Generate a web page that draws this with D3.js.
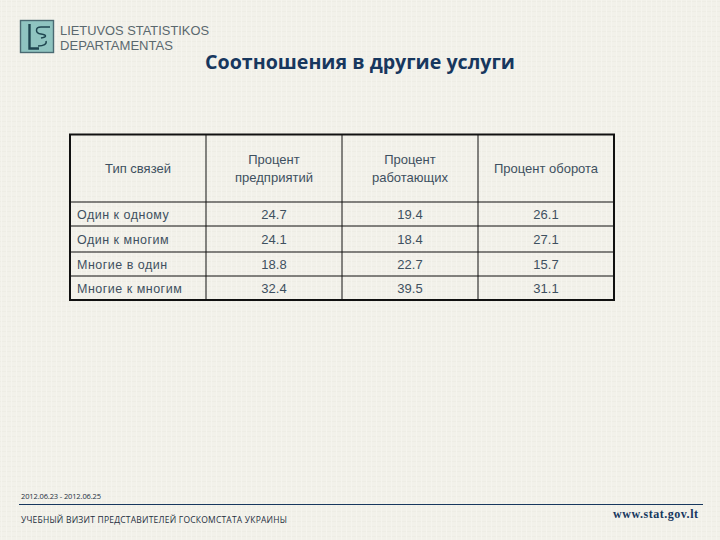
<!DOCTYPE html>
<html>
<head>
<meta charset="utf-8">
<script src="https://cdn.jsdelivr.net/npm/d3@7"></script>
<style>
html, body { margin: 0; padding: 0; background: #f1f0e9; }
svg { display: block; }
text { font-family: "Liberation Sans", sans-serif; }
</style>
</head>
<body>
<svg id="chart"></svg>
<script>
const w = 720;
const h = 540;

const title = 'Соотношения в другие услуги';
const headerCol0 = ['Тип связей'];
const headerCol1 = ['Процент', 'предприятий'];
const headerCol2 = ['Процент', 'работающих'];
const headerCol3 = ['Процент оборота'];
const rowNames = ['Один к одному', 'Один к многим', 'Многие в один', 'Многие к многим'];
const enterprises = ['24.7', '24.1', '18.8', '32.4'];
const employees = ['19.4', '18.4', '22.7', '39.5'];
const turnover = ['26.1', '27.1', '15.7', '31.1'];

const columns = ['type', 'enterprises', 'employees', 'turnover'];
const rowKeys = ['header'].concat(rowNames);

// grid edges
const colEdges = [70, 206, 342, 478, 614];
const rowEdges = [134.5, 202, 226, 252, 276, 300];

const xScale = d3.scaleOrdinal().domain(columns).range(colEdges);
const xEnd = d3.scaleOrdinal().domain(columns).range(colEdges.slice(1));
const yScale = d3.scaleOrdinal().domain(rowKeys).range(rowEdges);
const yEnd = d3.scaleOrdinal().domain(rowKeys).range(rowEdges.slice(1));
const xMid = c => (xScale(c) + xEnd(c)) / 2;
const yMid = r => (yScale(r) + yEnd(r)) / 2;

const svg = d3.select('#chart').attr('width', w).attr('height', h);

// paper texture
const defs = svg.append('defs');
const pat = defs.append('pattern')
    .attr('id', 'paper')
    .attr('width', 5)
    .attr('height', 5)
    .attr('patternUnits', 'userSpaceOnUse');
pat.append('rect').attr('width', 5).attr('height', 5).attr('fill', '#f2f1ea');
pat.append('path').attr('d', 'M0 1.5H5').attr('stroke', '#eeede5').attr('stroke-width', 1);
pat.append('path').attr('d', 'M1.5 0V5').attr('stroke', '#f5f4ee').attr('stroke-width', 1);
svg.append('rect').attr('width', w).attr('height', h).attr('fill', 'url(#paper)');

// logo
const logo = svg.append('g');
logo.append('rect')
    .attr('x', 20.5).attr('y', 20.5)
    .attr('width', 33).attr('height', 32)
    .attr('fill', '#8fc4c0')
    .attr('stroke', '#4a6a72')
    .attr('stroke-width', 1.4);
logo.append('path')
    .attr('d', 'M29.5 24V48.5H39')
    .attr('fill', 'none')
    .attr('stroke', '#1f4650')
    .attr('stroke-width', 2.4);
logo.append('path')
    .attr('d', 'M50 27H41C35 27 35 33 41 34C47 35 47 37 41 38M46 41C47 44 44 46 38 46')
    .attr('fill', 'none')
    .attr('stroke', '#1f4650')
    .attr('stroke-width', 1.5);
logo.append('text')
    .attr('x', 60).attr('y', 35)
    .attr('font-size', 12.5)
    .attr('textLength', 149)
    .attr('lengthAdjust', 'spacingAndGlyphs')
    .attr('fill', '#5a686e')
    .text('LIETUVOS STATISTIKOS');
logo.append('text')
    .attr('x', 60).attr('y', 49.5)
    .attr('font-size', 12.5)
    .attr('textLength', 113)
    .attr('lengthAdjust', 'spacingAndGlyphs')
    .attr('fill', '#5a686e')
    .text('DEPARTAMENTAS');

// title
svg.append('text')
    .attr('x', 360).attr('y', 69)
    .attr('text-anchor', 'middle')
    .attr('font-size', 19.5)
    .attr('font-weight', 'bold')
    .style('font-family', '"Open Sans", sans-serif')
    .attr('textLength', 310)
    .attr('lengthAdjust', 'spacingAndGlyphs')
    .attr('fill', '#17375e')
    .text(title);

// grid lines
const grid = svg.append('g').attr('stroke', '#111');
grid.selectAll('line.row')
    .data(rowKeys.slice(1))
    .enter()
    .append('line')
    .attr('class', 'row')
    .attr('x1', xScale('type'))
    .attr('x2', xEnd('turnover'))
    .attr('y1', d => yScale(d))
    .attr('y2', d => yScale(d))
    .attr('stroke-width', 1);
grid.selectAll('line.col')
    .data(columns.slice(1))
    .enter()
    .append('line')
    .attr('class', 'col')
    .attr('x1', d => xScale(d))
    .attr('x2', d => xScale(d))
    .attr('y1', yScale('header'))
    .attr('y2', yEnd(rowNames[3]))
    .attr('stroke-width', 1);
grid.append('rect')
    .attr('x', xScale('type'))
    .attr('y', yScale('header'))
    .attr('width', xEnd('turnover') - xScale('type'))
    .attr('height', yEnd(rowNames[3]) - yScale('header'))
    .attr('fill', 'none')
    .attr('stroke-width', 2);

// header cells
const headerLines = [headerCol0, headerCol1, headerCol2, headerCol3];
const ink = '#3e5060';
columns.forEach((c, i) => {
    const lines = headerLines[i];
    svg.selectAll(null)
        .data(lines)
        .enter()
        .append('text')
        .attr('x', xMid(c))
        .attr('y', (d, k) => yMid('header') + (k - (lines.length - 1) / 2) * 18 + 5)
        .attr('text-anchor', 'middle')
        .attr('font-size', 13)
        .attr('fill', ink)
        .text(d => d);
});

// body cells
svg.selectAll('text.name')
    .data(rowNames)
    .enter()
    .append('text')
    .attr('class', 'name')
    .attr('x', 77)
    .attr('y', d => yMid(d) + 4.5)
    .attr('font-size', 12.5)
    .attr('letter-spacing', 0.5)
    .attr('fill', ink)
    .text(d => d);

[enterprises, employees, turnover].forEach((vals, i) => {
    const c = columns[i + 1];
    svg.selectAll(null)
        .data(vals)
        .enter()
        .append('text')
        .attr('x', xMid(c))
        .attr('y', (d, k) => yMid(rowNames[k]) + 4.5)
        .attr('text-anchor', 'middle')
        .attr('font-size', 13)
        .attr('fill', ink)
        .text(d => d);
});

// footer
svg.append('line')
    .attr('x1', 19).attr('x2', 703)
    .attr('y1', 504.5).attr('y2', 504.5)
    .attr('stroke', '#17375e')
    .attr('stroke-width', 1);
svg.append('text')
    .attr('x', 21).attr('y', 499)
    .attr('font-size', 7.5)
    .style('font-family', '"Open Sans", sans-serif')
    .attr('textLength', 80)
    .attr('fill', '#1e2f3e')
    .text('2012.06.23 - 2012.06.25');
svg.append('text')
    .attr('x', 21).attr('y', 523)
    .attr('font-size', 8.5)
    .style('font-family', '"Open Sans", sans-serif')
    .attr('textLength', 266)
    .attr('fill', '#1e2f3e')
    .text('УЧЕБНЫЙ ВИЗИТ ПРЕДСТАВИТЕЛЕЙ ГОСКОМСТАТА УКРАИНЫ');
svg.append('text')
    .attr('x', 698).attr('y', 518)
    .attr('text-anchor', 'end')
    .attr('font-size', 12)
    .attr('font-weight', 'bold')
    .style('font-family', '"Liberation Serif", serif')
    .attr('textLength', 85)
    .attr('fill', '#17375e')
    .text('www.stat.gov.lt');
</script>
</body>
</html>
